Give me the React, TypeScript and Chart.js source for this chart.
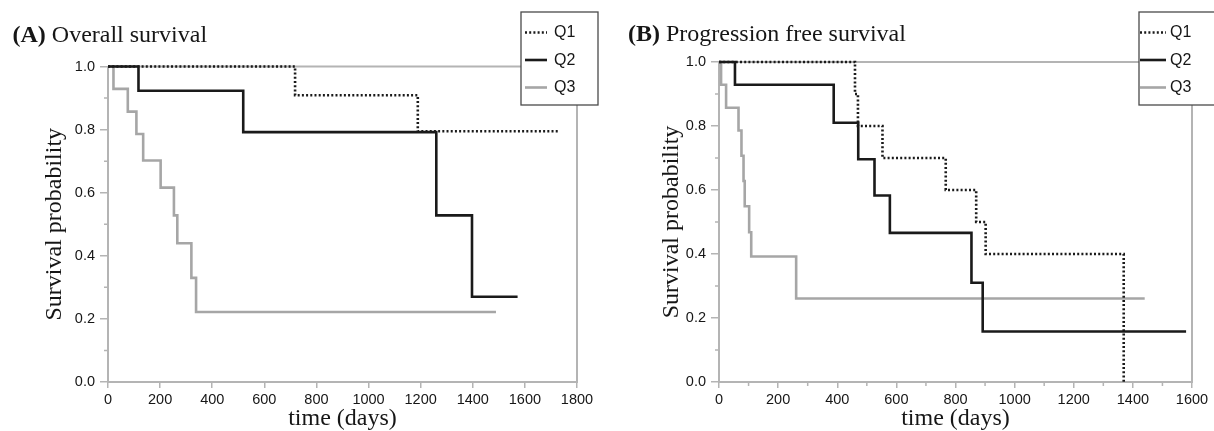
import React, { useEffect, useRef } from 'react';
import { Chart, registerables } from 'chart.js';

Chart.register(...registerables);

// ---------- data: (A) Overall survival ----------
const osQ1Days = [0, 718, 1189, 1732];
const osQ1Surv = [1, 0.909, 0.795, 0.795];
const osQ2Days = [0, 117, 519, 1260, 1397, 1572];
const osQ2Surv = [1, 0.923, 0.792, 0.528, 0.27, 0.27];
const osQ3Days = [0, 21, 76, 109, 135, 202, 253, 266, 320, 338, 1489];
const osQ3Surv = [1, 0.929, 0.857, 0.786, 0.702, 0.616, 0.528, 0.44, 0.33, 0.222, 0.222];

// ---------- data: (B) Progression free survival ----------
const pfsQ1Days = [0, 460, 470, 553, 767, 870, 902, 1369];
const pfsQ1Surv = [1, 0.9, 0.8, 0.7, 0.6, 0.5, 0.4, 0];
const pfsQ2Days = [0, 54, 388, 471, 526, 578, 854, 892, 1580];
const pfsQ2Surv = [1, 0.929, 0.81, 0.696, 0.583, 0.466, 0.31, 0.158, 0.158];
const pfsQ3Days = [0, 7, 24, 66, 76, 83, 87, 102, 109, 261, 1440];
const pfsQ3Surv = [1, 0.929, 0.857, 0.786, 0.707, 0.628, 0.549, 0.468, 0.392, 0.261, 0.261];

// ---------- labels / ticks ----------
const seriesLabels = ['Q1', 'Q2', 'Q3'];
const panelATitle = ['(A)', ' Overall survival'];
const panelBTitle = ['(B)', ' Progression free survival'];
const yAxisTitle = 'Survival probability';
const xAxisTitle = 'time (days)';
const osXMax = 1800;
const pfsXMax = 1600;
const xMajorStep = 200;
const yMin = 0;
const yMax = 1;
const yMajorStep = 0.2;
const yMinorTicks = [0.1, 0.3, 0.5, 0.7, 0.9];
const osXMinorTicks: number[] = [];
const pfsXMinorTicks = [100, 300, 500, 700, 900, 1100, 1300, 1500];

// ---------- styles ----------
const BLACK = '#1a1a1a';
const Q3_GRAY = '#a6a6a6';
const AXIS_GRAY = '#b4b4b4';
const TEXT = '#161616';
const SANS = '"Liberation Sans", Arial, Helvetica, sans-serif';
const SERIF = '"Liberation Serif", "Times New Roman", Times, serif';

const toPoints = (days: number[], surv: number[]) => days.map((d, i) => ({ x: d, y: surv[i] }));

const seriesStyles = [
  { color: BLACK, dash: [2, 2.2] },
  { color: BLACK, dash: [] as number[] },
  { color: Q3_GRAY, dash: [] as number[] },
];

const decorPlugin = {
  id: 'decor',
  beforeDatasetsDraw(chart: any, _args: any, opts: any) {
    const { ctx, chartArea } = chart;
    const { left, right, top, bottom } = chartArea;
    ctx.save();
    ctx.strokeStyle = AXIS_GRAY;
    ctx.lineWidth = 2;
    ctx.beginPath();
    ctx.moveTo(left, top);
    ctx.lineTo(right, top);
    ctx.lineTo(right, bottom + 1);
    ctx.stroke();
    // minor ticks
    ctx.lineWidth = 1.5;
    const ys = chart.scales.y;
    const xs = chart.scales.x;
    ctx.beginPath();
    (opts.yMinor || []).forEach((v: number) => {
      const py = ys.getPixelForValue(v);
      ctx.moveTo(left - 4, py);
      ctx.lineTo(left, py);
    });
    (opts.xMinor || []).forEach((v: number) => {
      const px = xs.getPixelForValue(v);
      ctx.moveTo(px, bottom);
      ctx.lineTo(px, bottom + 4);
    });
    ctx.stroke();
    ctx.restore();
  },
  afterDraw(chart: any, _args: any, opts: any) {
    const { ctx } = chart;
    ctx.save();
    // panel title
    const [boldPart, normalPart] = opts.title;
    ctx.fillStyle = TEXT;
    ctx.textBaseline = 'alphabetic';
    ctx.textAlign = 'left';
    ctx.font = `bold 24px ${SERIF}`;
    ctx.fillText(boldPart, opts.titleX, opts.titleY);
    const w = ctx.measureText(boldPart).width;
    ctx.font = `24px ${SERIF}`;
    ctx.fillText(normalPart, opts.titleX + w, opts.titleY);

    // legend
    const lg = opts.legend;
    ctx.fillStyle = '#ffffff';
    ctx.fillRect(lg.x, lg.y, lg.w, lg.h);
    ctx.strokeStyle = '#4a4a4a';
    ctx.lineWidth = 1.3;
    ctx.strokeRect(lg.x, lg.y, lg.w, lg.h);
    chart.data.datasets.forEach((ds: any, i: number) => {
      const cy = lg.rows[i];
      ctx.strokeStyle = ds.borderColor;
      ctx.lineWidth = ds.borderWidth;
      ctx.setLineDash(ds.borderDash || []);
      ctx.lineCap = 'butt';
      ctx.beginPath();
      ctx.moveTo(lg.lineX0, cy);
      ctx.lineTo(lg.lineX1, cy);
      ctx.stroke();
      ctx.setLineDash([]);
      ctx.fillStyle = TEXT;
      ctx.font = `16px ${SANS}`;
      ctx.textBaseline = 'middle';
      ctx.fillText(ds.label, lg.textX, cy + 0.5);
    });
    ctx.restore();
  },
};

type PanelProps = {
  days: number[][];
  surv: number[][];
  xMax: number;
  padRight: number;
  padTop: number;
  yWidth: number;
  yTitlePad: number;
  xMinor: number[];
  title: string[];
  titleX: number;
  titleY: number;
  legend: any;
};

function Panel(p: PanelProps) {
  const ref = useRef<HTMLCanvasElement>(null);
  useEffect(() => {
    const datasets = seriesLabels.map((label, i) => ({
      label,
      data: toPoints(p.days[i], p.surv[i]),
      borderColor: seriesStyles[i].color,
      borderWidth: 2.6,
      borderDash: seriesStyles[i].dash,
      borderCapStyle: 'butt' as const,
      stepped: 'before' as const,
      pointRadius: 0,
      fill: false,
      clip: false as any,
    }));
    const chart = new Chart(ref.current!, {
      type: 'line',
      data: { datasets },
      plugins: [decorPlugin],
      options: {
        responsive: false,
        animation: false,
        layout: { padding: { left: 0, right: p.padRight, top: p.padTop, bottom: 0 } },
        plugins: {
          legend: { display: false },
          tooltip: { enabled: false },
          title: { display: false },
          decor: {
            yMinor: yMinorTicks,
            xMinor: p.xMinor,
            title: p.title,
            titleX: p.titleX,
            titleY: p.titleY,
            legend: p.legend,
          },
        } as any,
        scales: {
          x: {
            type: 'linear',
            min: 0,
            max: p.xMax,
            ticks: {
              stepSize: xMajorStep,
              font: { family: SANS, size: 14.5 },
              color: TEXT,
              padding: 3,
              maxRotation: 0,
              autoSkip: false,
              callback: (v: any) => String(v),
            },
            grid: { drawOnChartArea: false, drawTicks: true, tickLength: 6, color: AXIS_GRAY, lineWidth: 1.5 },
            border: { display: true, color: AXIS_GRAY, width: 2 },
            title: {
              display: true,
              text: xAxisTitle,
              color: TEXT,
              font: { family: SERIF, size: 24, lineHeight: 1 },
              padding: 0,
            },
            afterFit: (s: any) => {
              s.height = 49;
            },
          },
          y: {
            type: 'linear',
            min: yMin,
            max: yMax,
            ticks: {
              stepSize: yMajorStep,
              font: { family: SANS, size: 14.5 },
              color: TEXT,
              padding: 5,
              callback: (v: any) => Number(v).toFixed(1),
            },
            grid: { drawOnChartArea: false, drawTicks: true, tickLength: 8, color: AXIS_GRAY, lineWidth: 1.5 },
            border: { display: true, color: AXIS_GRAY, width: 2 },
            title: {
              display: true,
              text: yAxisTitle,
              color: TEXT,
              font: { family: SERIF, size: 24, lineHeight: 1.2 },
              padding: { top: 40, bottom: 0 },
            },
            afterFit: (s: any) => {
              s.width = p.yWidth;
            },
          },
        } as any,
      },
    });
    // adjust y title padding per panel
    (chart.options.scales as any).y.title.padding = { top: p.yTitlePad, bottom: 0 };
    chart.update();
    return () => chart.destroy();
  }, []);
  return <canvas ref={ref} width={607} height={431} style={{ display: 'block', width: 607, height: 431 }} />;
}

export default function App() {
  return (
    <div style={{ position: 'absolute', left: 0, top: 0, width: 1214, height: 431, background: '#fff', overflow: 'hidden' }}>
      <div style={{ position: 'absolute', left: 0, top: 0 }}>
        <Panel
          days={[osQ1Days, osQ2Days, osQ3Days]}
          surv={[osQ1Surv, osQ2Surv, osQ3Surv]}
          xMax={osXMax}
          padRight={30}
          padTop={66.5}
          yWidth={108}
          yTitlePad={40}
          xMinor={osXMinorTicks}
          title={panelATitle}
          titleX={12.5}
          titleY={41.5}
          legend={{ x: 521, y: 12, w: 77, h: 93, rows: [32.5, 60, 87.5], lineX0: 525, lineX1: 547, textX: 554 }}
        />
      </div>
      <div style={{ position: 'absolute', left: 607, top: 0 }}>
        <Panel
          days={[pfsQ1Days, pfsQ2Days, pfsQ3Days]}
          surv={[pfsQ1Surv, pfsQ2Surv, pfsQ3Surv]}
          xMax={pfsXMax}
          padRight={22}
          padTop={62}
          yWidth={112}
          yTitlePad={50}
          xMinor={pfsXMinorTicks}
          title={panelBTitle}
          titleX={21}
          titleY={40.5}
          legend={{ x: 532, y: 12, w: 80, h: 93, rows: [32.5, 60, 87.5], lineX0: 533, lineX1: 559, textX: 563 }}
        />
      </div>
    </div>
  );
}
